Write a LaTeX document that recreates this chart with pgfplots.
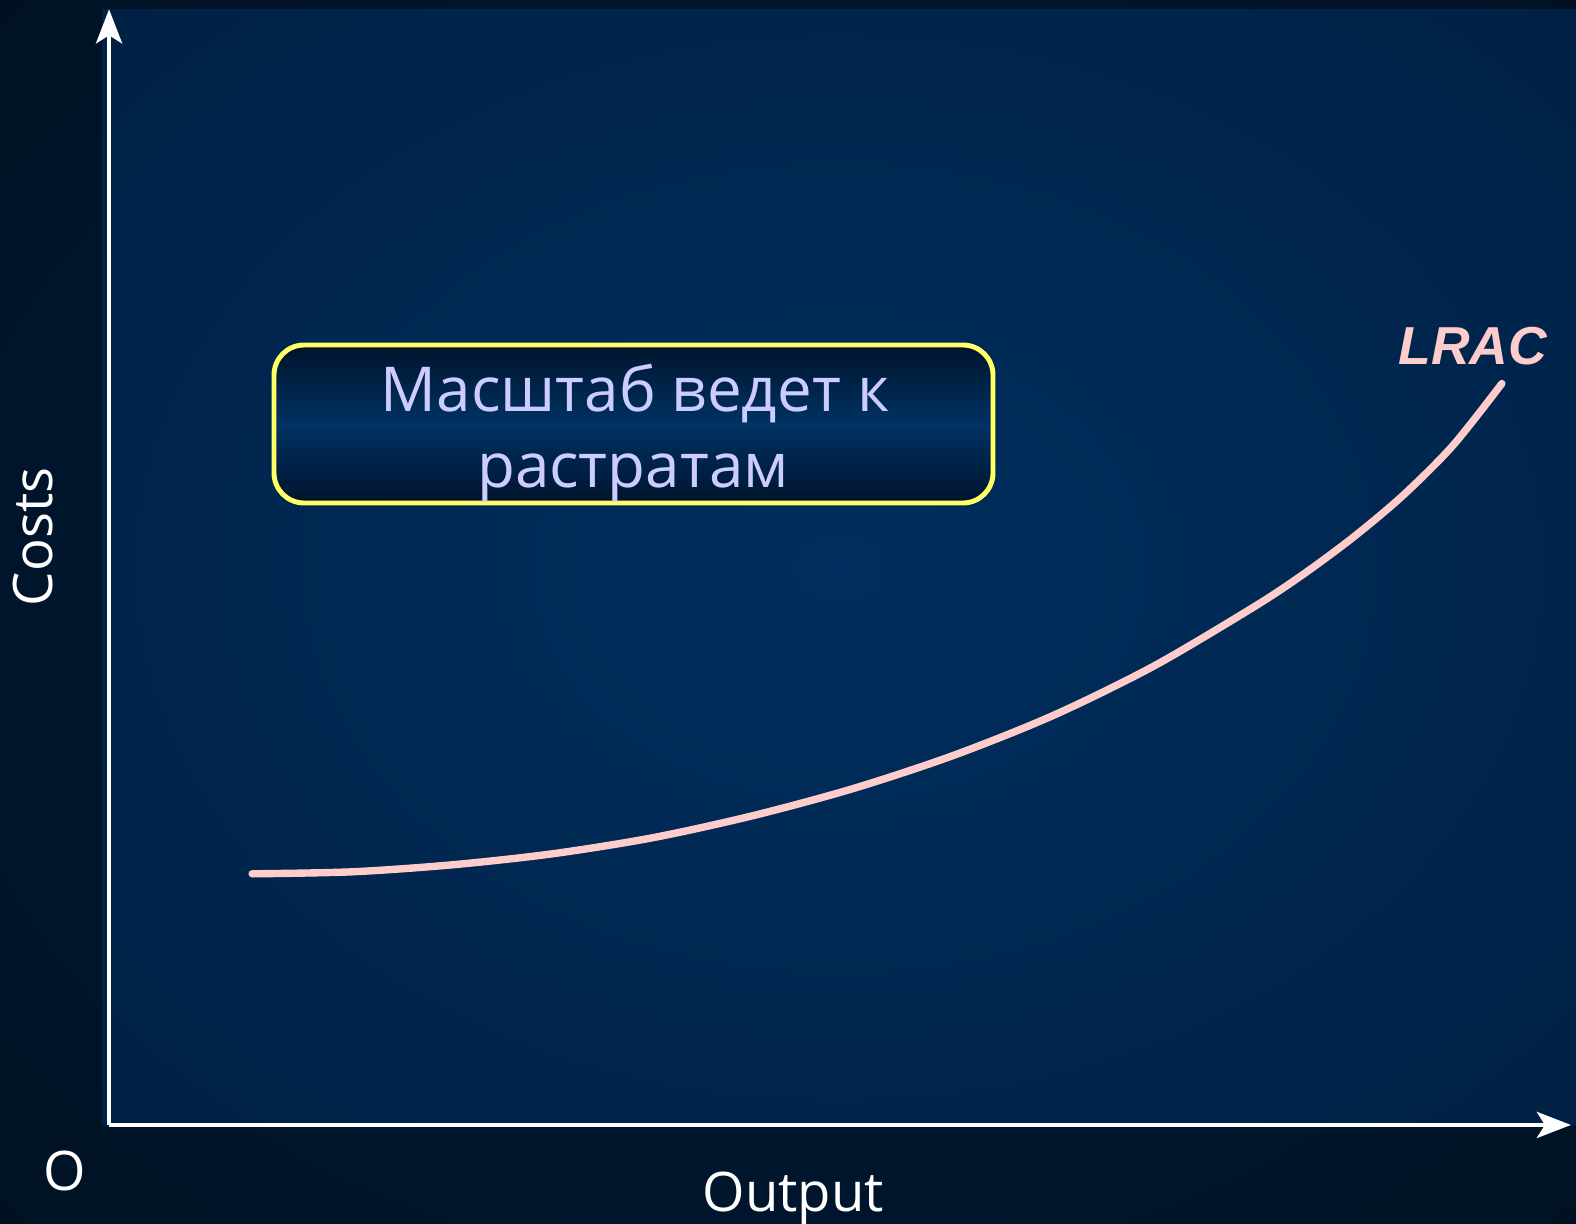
\documentclass[border=0pt]{standalone}
\usepackage{fontspec}
\setmainfont{Open Sans}
\newfontfamily\lracfont{Liberation Sans}
\usepackage{pgfplots}
\pgfplotsset{compat=1.18}
\usetikzlibrary{arrows.meta}

\definecolor{bgin}{RGB}{0,30,60}
\definecolor{bgedge}{RGB}{0,12,26}
\definecolor{bgcorner}{RGB}{0,4,10}
\definecolor{plin}{RGB}{0,46,94}
\definecolor{plmid}{RGB}{0,36,74}
\definecolor{pledge}{RGB}{0,27,56}
\definecolor{plcorner}{RGB}{0,20,42}
\definecolor{lrac}{RGB}{255,204,204}
\definecolor{boxtext}{RGB}{204,204,255}
\definecolor{boxedge}{RGB}{255,255,102}
\definecolor{boxdark}{RGB}{0,20,44}
\definecolor{boxmid}{RGB}{0,50,100}

\pgfdeclareradialshading{outerbg}{\pgfpoint{0bp}{0bp}}{%
  color(0bp)=(bgin); color(50bp)=(bgedge); color(72bp)=(bgcorner)}
\pgfdeclareradialshading{plotbg}{\pgfpoint{0bp}{0bp}}{%
  color(0bp)=(plin); color(28bp)=(plmid); color(50bp)=(pledge); color(72bp)=(plcorner)}

\begin{document}
\begin{tikzpicture}
% background, 1 unit = 1 px of the reference
\begin{scope}[x=0.01cm,y=0.01cm]
  \shade[shading=outerbg] (0,0) rectangle (1576,1223);
  \shade[shading=plotbg] (102,98) rectangle (1576,1213);
\end{scope}

\begin{axis}[
    at={(1.09cm,0.98cm)}, anchor=south west,
    scale only axis,
    width=14.61cm, height=11.15cm,
    xmin=0, xmax=1461,
    ymin=0, ymax=1115,
    axis lines=left,
    axis line style={white, line width=1.3pt,
        -{Stealth[length=0.34cm,width=0.26cm,inset=0.08cm]}},
    ticks=none,
    clip=false,
    xlabel={Output},
    ylabel={Costs},
    xlabel style={at={(axis description cs:0.468,-0.066)}, anchor=center,
        text=white, font=\fontsize{15.5}{18}\selectfont},
    ylabel style={at={(axis description cs:-0.052,0.527)}, anchor=center,
        text=white, font=\fontsize{15.5}{18}\selectfont},
]
    \addplot[smooth, color=lrac, line width=2.1pt, line cap=round] coordinates {
        (143,251) (243,253) (343,260) (443,271) (543,287) (643,309)
        (743,336) (843,369) (943,409) (1043,458) (1143,517) (1193,550)
        (1243,587) (1293,629) (1343,679) (1392,741)
    };
    \node[text=lrac, font=\lracfont\bfseries\itshape\fontsize{15.2}{18}\selectfont]
        at (axis cs:1363,778) {LRAC};
    \node[text=white, font=\fontsize{15.5}{18}\selectfont]
        at (axis description cs:-0.030,-0.041) {O};
\end{axis}

% text box
\begin{scope}[x=0.01cm,y=0.01cm]
  \shade[top color=boxdark, bottom color=boxdark, middle color=boxmid,
         rounded corners=0.3cm]
      (274,720) rectangle (993,878);
  \draw[boxedge, line width=1.4pt, rounded corners=0.3cm]
      (274,720) rectangle (993,878);
  \node[anchor=base, text=boxtext, font=\fontsize{17.6}{21}\selectfont]
      at (635,812) {Масштаб ведет к};
  \node[anchor=base, text=boxtext, font=\fontsize{17.6}{21}\selectfont]
      at (633,736) {растратам};
  \pgfresetboundingbox
  \useasboundingbox (0,0) rectangle (1576,1223);
\end{scope}
\end{tikzpicture}
\end{document}
